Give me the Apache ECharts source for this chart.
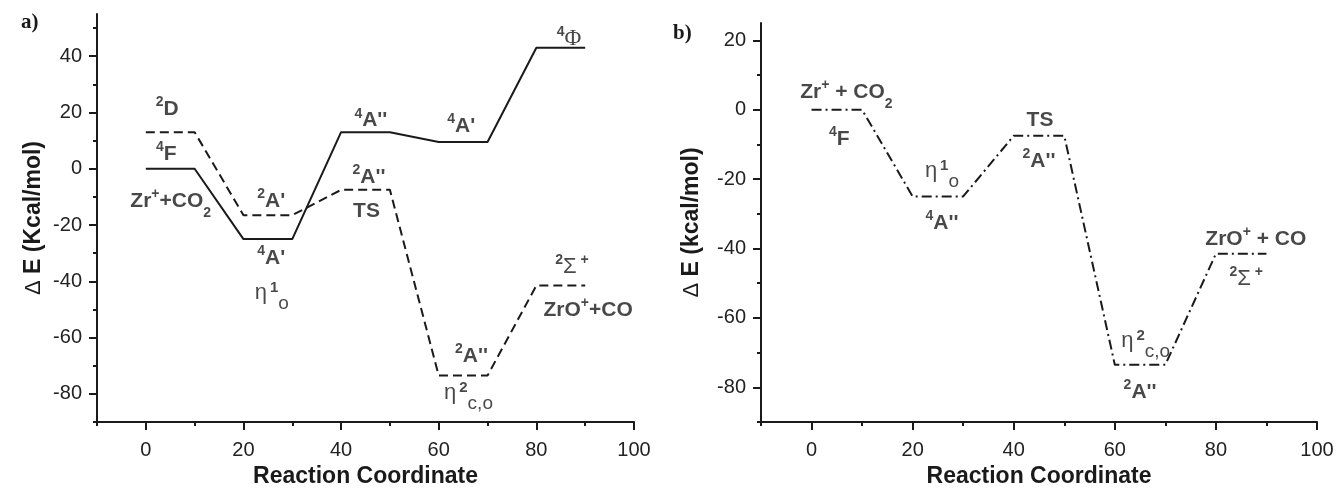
<!DOCTYPE html>
<html>
<head>
<meta charset="utf-8">
<script src="https://cdn.jsdelivr.net/npm/echarts@6/dist/echarts.min.js"></script>
<style>
  html, body { margin: 0; padding: 0; background: #fff; }
  #chart { width: 1337px; height: 492px; }
</style>
</head>
<body>
<div id="chart"></div>
<script>
// reaction coordinate where each level starts, every level is 10 wide
var stageX = [0, 20, 40, 60, 80];
var levelWidth = 10;

// a) energies (kcal/mol)
var quartetA = [0, -25, 13, 9.5, 43];        // solid
var doubletA = [13, -16.5, -7.5, -73.5, -41.5]; // dashed
// b) energies (kcal/mol)
var pathB = [0, -25, -7.5, -73.5, -41.5];     // dash-dot

// ticks
var xTicks = [0, 20, 40, 60, 80, 100];
var xMinorTicks = [-10, 10, 30, 50, 70, 90];
var yTicksA = [-80, -60, -40, -20, 0, 20, 40];
var yMinorA = [-90, -70, -50, -30, -10, 10, 30, 50];
var yTicksB = [-80, -60, -40, -20, 0, 20];
var yMinorB = [-90, -70, -50, -30, -10, 10];

// state labels: [x, y, text]
var notesA = [
  [4.4, 21.3, '{s|2}{b|D}'],
  [4.2, 5.2, '{s|4}{b|F}'],
  [5.1, -11.5, '{b|Zr}{s|+}{b|+CO}{u|2}'],
  [25.7, -11.6, "{s|2}{b|A'}"],
  [25.7, -31.8, "{s|4}{b|A'}"],
  [25.8, -44.1, '{g|η}{es|1}{eu|o}'],
  [46.1, 17.1, "{s|4}{b|A''}"],
  [64.6, 15, "{s|4}{b|A'}"],
  [86.7, 46, '{s|4}{f|Φ}'],
  [45.7, -2.9, "{s|2}{b|A''}"],
  [45.2, -15, '{b|TS}'],
  [66.7, -66.5, "{s|2}{b|A''}"],
  [66.1, -79.7, '{g|η}{es|2}{eu|c,o}'],
  [87.3, -35, '{s|2}{g|Σ}{s| +}'],
  [90.6, -50.1, '{b|ZrO}{s|+}{b|+CO}']
];
var notesB = [
  [6.9, 5.1, '{b|Zr}{s|+}{b| + CO}{u|2}'],
  [5.5, -8.6, '{s|4}{b|F}'],
  [25.8, -17.5, '{g|η}{es|1}{eu|o}'],
  [25.8, -32.6, "{s|4}{b|A''}"],
  [45.2, -2.9, '{b|TS}'],
  [45, -14.8, "{s|2}{b|A''}"],
  [66.1, -66.5, '{g|η}{es|2}{eu|c,o}'],
  [65, -81.4, "{s|2}{b|A''}"],
  [87.9, -37.4, '{b|ZrO}{s|+}{b| + CO}'],
  [86, -48.9, '{s|2}{g|Σ}{s| +}']
];

var FONT = '"Liberation Sans", Arial, Helvetica, sans-serif';
var SERIF = '"Liberation Serif", "Times New Roman", serif';
var INK = '#1a1a1a';

function levels(ys) {
  var out = [];
  ys.forEach(function (y, i) {
    out.push([stageX[i], y], [stageX[i] + levelWidth, y]);
  });
  return out;
}

var rich = {
  b: { fontFamily: FONT, fontWeight: 'bold', fontSize: 21, color: INK, verticalAlign: 'middle' },
  g: { fontFamily: FONT, fontSize: 22, color: INK, verticalAlign: 'middle' },
  f: { fontFamily: SERIF, fontSize: 23, color: INK, verticalAlign: 'middle' },
  s: { fontFamily: FONT, fontWeight: 'bold', fontSize: 14, color: INK, verticalAlign: 'middle', padding: [0, 0, 14, 0] },
  u: { fontFamily: FONT, fontWeight: 'bold', fontSize: 14, color: INK, verticalAlign: 'middle', padding: [24, 0, 0, 0] },
  es: { fontFamily: FONT, fontWeight: 'bold', fontSize: 15, color: INK, verticalAlign: 'middle', padding: [0, 0, 10, 3] },
  eu: { fontFamily: FONT, fontSize: 19, color: INK, verticalAlign: 'middle', padding: [22, 0, 0, 0] }
};

function labelSeries(notes, axisIdx) {
  return {
    type: 'scatter',
    xAxisIndex: axisIdx,
    yAxisIndex: axisIdx,
    symbolSize: 0,
    silent: true,
    z: 10,
    data: notes.map(function (n) { return { value: [n[0], n[1]], name: n[2] }; }),
    label: {
      show: true,
      position: 'inside',
      formatter: function (p) { return p.name; },
      rich: rich
    },
    emphasis: { disabled: true }
  };
}

function levelSeries(ys, axisIdx, dash) {
  return {
    type: 'line',
    xAxisIndex: axisIdx,
    yAxisIndex: axisIdx,
    data: levels(ys),
    showSymbol: false,
    symbol: 'none',
    silent: true,
    lineStyle: { color: INK, width: 2, type: dash },
    emphasis: { disabled: true }
  };
}

function xAxes(grid) {
  return [{
    type: 'value', gridIndex: grid, position: 'bottom', min: -10, max: 100,
    name: 'Reaction Coordinate', nameLocation: 'middle', nameGap: 43,
    nameTextStyle: { fontFamily: FONT, fontWeight: 'bold', fontSize: 23, color: INK },
    axisLine: { show: true, onZero: false, lineStyle: { color: INK, width: 2 } },
    axisTick: { show: true, customValues: xTicks, length: 8, lineStyle: { color: INK, width: 2 } },
    axisLabel: { customValues: xTicks, margin: 18, fontFamily: FONT, fontSize: 20, color: '#222' },
    splitLine: { show: false }
  }, {
    type: 'value', gridIndex: grid, position: 'bottom', min: -10, max: 100,
    axisLine: { show: false, onZero: false },
    axisTick: { show: true, customValues: xMinorTicks, length: 4, lineStyle: { color: INK, width: 2 } },
    axisLabel: { show: false },
    splitLine: { show: false }
  }];
}

function yAxes(grid, max, ticks, minor, title, gap) {
  return [{
    type: 'value', gridIndex: grid, position: 'left', min: -90, max: max,
    name: title, nameLocation: 'middle', nameGap: gap,
    nameTextStyle: {
      fontFamily: FONT, fontWeight: 'bold', fontSize: 23, color: INK,
      rich: {
        d: { fontFamily: FONT, fontWeight: 'normal', fontSize: 22, color: INK },
        t: { fontFamily: FONT, fontWeight: 'bold', fontSize: 23, color: INK }
      }
    },
    axisLine: { show: true, onZero: false, lineStyle: { color: INK, width: 2 } },
    axisTick: { show: true, customValues: ticks, length: 8, lineStyle: { color: INK, width: 2 } },
    axisLabel: { customValues: ticks, margin: 15, fontFamily: FONT, fontSize: 20, color: '#222' },
    splitLine: { show: false }
  }, {
    type: 'value', gridIndex: grid, position: 'left', min: -90, max: max,
    axisLine: { show: false, onZero: false },
    axisTick: { show: true, customValues: minor, length: 4, lineStyle: { color: INK, width: 2 } },
    axisLabel: { show: false },
    splitLine: { show: false }
  }];
}

var chart = echarts.init(document.getElementById('chart'), null, { renderer: 'canvas' });

chart.setOption({
  animation: false,
  backgroundColor: '#fff',
  grid: [
    { left: 97, right: 703, top: 14, bottom: 70, outerBoundsMode: 'none', containLabel: false },
    { left: 761, right: 20, top: 23, bottom: 70, outerBoundsMode: 'none', containLabel: false }
  ],
  xAxis: xAxes(0).concat(xAxes(1)),
  yAxis: yAxes(0, 55, yTicksA, yMinorA, '{d|Δ}{t| E (Kcal/mol)}', 52)
    .concat(yAxes(1, 25, yTicksB, yMinorB, '{d|Δ}{t| E (kcal/mol)}', 58)),
  graphic: [
    { type: 'text', left: 21, top: 12, style: { text: 'a)', font: 'bold 21px ' + SERIF, fill: INK } },
    { type: 'text', left: 673, top: 23, style: { text: 'b)', font: 'bold 21px ' + SERIF, fill: INK } }
  ],
  series: [
    levelSeries(quartetA, 0, 'solid'),
    levelSeries(doubletA, 0, [9, 5]),
    labelSeries(notesA, 0),
    levelSeries(pathB, 2, [10, 4, 2, 4]),
    labelSeries(notesB, 2)
  ]
});
</script>
</body>
</html>
